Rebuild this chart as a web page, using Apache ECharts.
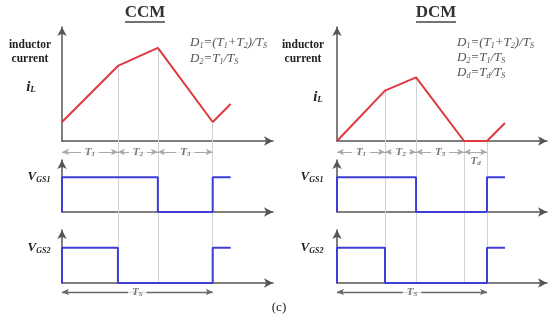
<!DOCTYPE html>
<html><head><meta charset="utf-8">
<script src="https://cdn.jsdelivr.net/npm/echarts@6/dist/echarts.min.js"></script>
<style>html,body{margin:0;padding:0;background:#fff}#c{width:558px;height:320px}</style>
</head><body><div id="c"></div>
<script>
// Time axis in units where Ts = 100
const timeMax = 140;
// CCM
const ccmTime = [0, 37.1, 63.6, 100, 111.9];
const ccmIL   = [2.0, 7.9, 9.8, 2.0, 3.9];
const ccmVgs1 = [1, 1, 0, 1, 1];
const ccmVgs2 = [1, 0, 0, 1, 1];
const ccmSegs = ['1', '2', '3'];
// DCM
const dcmTime = [0, 32, 52.7, 84.7, 100, 112];
const dcmIL   = [0, 5.3, 6.7, 0, 0, 1.9];
const dcmVgs1 = [1, 1, 0, 0, 1, 1];
const dcmVgs2 = [1, 0, 0, 0, 1, 1];
const dcmSegs = ['1', '2', '3', 'd'];

const SERIF = '"Liberation Serif","DejaVu Serif",serif';
const RED = '#dd3a3e', BLUE = '#3e3ed6', AXC = '#555', GUIDE = '#d2d2d2', ARROW = '#a8a8a8';

const grids = [], xAxes = [], yAxes = [], series = [];

function axisX(gi, show) {
  xAxes.push({ type: 'value', gridIndex: gi, min: 0, max: timeMax, show: show,
    axisLine: { show: true, onZero: false, symbol: ['none', 'arrow'], symbolSize: [7, 9], lineStyle: { color: AXC, width: 1.5 } },
    axisTick: { show: false }, axisLabel: { show: false }, splitLine: { show: false } });
}
function axisY(gi, max, show, inverse) {
  yAxes.push({ type: 'value', gridIndex: gi, min: 0, max: max, show: show, inverse: !!inverse,
    axisLine: { show: true, onZero: false, symbol: ['none', 'arrow'], symbolSize: [7, 9], lineStyle: { color: AXC, width: 1.5 } },
    axisTick: { show: false }, axisLabel: { show: false }, splitLine: { show: false } });
}
function zip(t, v) { return t.map((x, i) => [x, v[i]]); }

function panel(left, width, time, il, v1, v2, segs) {
  const g0 = grids.length;
  grids.push({ left: left, top: 27, width: width, height: 114 });
  grids.push({ left: left, top: 160, width: width, height: 52 });
  grids.push({ left: left, top: 230, width: width, height: 53 });
  grids.push({ left: left, top: 141, width: width, height: 160 });
  axisX(g0, true); axisY(g0, 12, true);
  axisX(g0 + 1, true); axisY(g0 + 1, 1.5, true);
  axisX(g0 + 2, true); axisY(g0 + 2, 1.5, true);
  axisX(g0 + 3, false); axisY(g0 + 3, 160, false, true);
  const guideT = time.slice(1, time.length - 1);
  // inductor current
  series.push({ type: 'line', xAxisIndex: g0, yAxisIndex: g0, data: zip(time, il), showSymbol: false, z: 5,
    lineStyle: { color: RED, width: 2 }, itemStyle: { color: RED },
    markLine: { silent: true, symbol: 'none', z: 1, label: { show: false },
      lineStyle: { color: GUIDE, width: 1, type: 'solid' },
      data: guideT.map((t) => [{ coord: [t, il[time.indexOf(t)]] }, { coord: [t, 0] }]) } });
  // gate signals
  [[v1, g0 + 1], [v2, g0 + 2]].forEach(([v, gi]) => {
    series.push({ type: 'line', xAxisIndex: gi, yAxisIndex: gi, step: 'end', showSymbol: false, z: 5,
      data: [[0, 0]].concat(zip(time, v)), lineStyle: { color: BLUE, width: 2 }, itemStyle: { color: BLUE } });
  });
  // overlay: guides, timing arrows, Ts arrow
  const ml = [];
  guideT.forEach((t) => ml.push([{ coord: [t, 0], lineStyle: { color: GUIDE, width: 1, type: 'solid' }, symbol: 'none' }, { coord: [t, 142], symbol: 'none' }]));
  segs.forEach((s, i) => ml.push([{ coord: [time[i], 11], lineStyle: { color: ARROW, width: 1, type: 'solid' } }, { coord: [time[i + 1], 11] }]));
  ml.push([{ coord: [0, 151], lineStyle: { color: '#666', width: 1.3, type: 'solid' } }, { coord: [100, 151] }]);
  series.push({ type: 'line', xAxisIndex: g0 + 3, yAxisIndex: g0 + 3, data: [[0, 0]], showSymbol: false, z: 1,
    lineStyle: { opacity: 0 },
    markLine: { silent: true, symbol: ['arrow', 'arrow'], symbolSize: [5, 7], z: 1, label: { show: false },
      lineStyle: { type: 'solid' }, data: ml } });
  // labels
  const lab = segs.map((s, i) => {
    const short = (time[i + 1] - time[i]) < 20;
    return { value: [(time[i] + time[i + 1]) / 2, short ? 20 : 11], name: s };
  });
  lab.push({ value: [50, 151], name: 'S' });
  series.push({ type: 'scatter', xAxisIndex: g0 + 3, yAxisIndex: g0 + 3, symbolSize: 1, z: 6,
    itemStyle: { color: 'rgba(0,0,0,0)' }, data: lab,
    label: { show: true, position: 'inside', formatter: (p) => 'T{s|' + p.name + '}',
      backgroundColor: '#fff', padding: [0, 4],
      fontFamily: SERIF, fontStyle: 'italic', fontWeight: 'bold', fontSize: 11, color: '#555',
      rich: { s: { fontFamily: SERIF, fontStyle: 'italic', fontWeight: 'bold', fontSize: 7, color: '#555', verticalAlign: 'bottom', padding: [4, 0, 0, 0] } } } });
}

panel(62, 211, ccmTime, ccmIL, ccmVgs1, ccmVgs2, ccmSegs);
panel(337, 210, dcmTime, dcmIL, dcmVgs1, dcmVgs2, dcmSegs);

const sub = (size, bold) => ({ fontFamily: SERIF, fontStyle: 'italic', fontWeight: bold ? 'bold' : 'normal', fontSize: size, verticalAlign: 'bottom', padding: [5, 0, 0, 0] });
function txt(x, y, text, opt) {
  return { type: 'text', x: x, y: y, silent: true,
    style: Object.assign({ text: text, textAlign: 'center', textVerticalAlign: 'middle', fontFamily: SERIF, fill: '#222' }, opt) };
}
const formula = { fontSize: 13, fontStyle: 'italic', fill: '#555', textAlign: 'left', rich: { s: Object.assign(sub(8, false), { color: '#555' }) } };
const vgs = { fontSize: 13, fontStyle: 'italic', fontWeight: 'bold', fill: '#222', rich: { s: Object.assign(sub(8, true), { color: '#222' }) } };
const ilStyle = { fontSize: 15, fontStyle: 'italic', fontWeight: 'bold', fill: '#222', rich: { s: Object.assign(sub(9, true), { color: '#222' }) } };
const bold11 = { fontSize: 11.5, fontWeight: 'bold', fill: '#222' };
const ttl = { fontSize: 17, fontWeight: 'bold', fill: '#333' };

const graphic = [
  txt(145, 13, 'CCM', ttl), txt(436, 13, 'DCM', ttl),
  { type: 'line', silent: true, shape: { x1: 125, y1: 22, x2: 165, y2: 22 }, style: { stroke: '#444', lineWidth: 1.5 } },
  { type: 'line', silent: true, shape: { x1: 416, y1: 22, x2: 456, y2: 22 }, style: { stroke: '#444', lineWidth: 1.5 } },
  txt(30, 45, 'inductor', bold11), txt(30, 59, 'current', bold11), txt(31, 87, 'i{s|L}', ilStyle),
  txt(303, 45, 'inductor', bold11), txt(303, 59, 'current', bold11), txt(318, 97, 'i{s|L}', ilStyle),
  txt(39, 177, 'V{s|GS1}', vgs), txt(39, 248, 'V{s|GS2}', vgs),
  txt(312, 177, 'V{s|GS1}', vgs), txt(312, 248, 'V{s|GS2}', vgs),
  txt(190, 43, 'D{s|1}=(T{s|1}+T{s|2})/T{s|S}', formula), txt(190, 59, 'D{s|2}=T{s|1}/T{s|S}', formula),
  txt(457, 43, 'D{s|1}=(T{s|1}+T{s|2})/T{s|S}', formula), txt(457, 58, 'D{s|2}=T{s|1}/T{s|S}', formula),
  txt(457, 73, 'D{s|d}=T{s|d}/T{s|S}', formula),
  txt(279, 308, '(c)', { fontSize: 13, fill: '#222' })
];

const chart = echarts.init(document.getElementById('c'), null, { renderer: 'canvas' });
chart.setOption({ animation: false, backgroundColor: '#fff', grid: grids, xAxis: xAxes, yAxis: yAxes, series: series, graphic: graphic });
</script></body></html>
